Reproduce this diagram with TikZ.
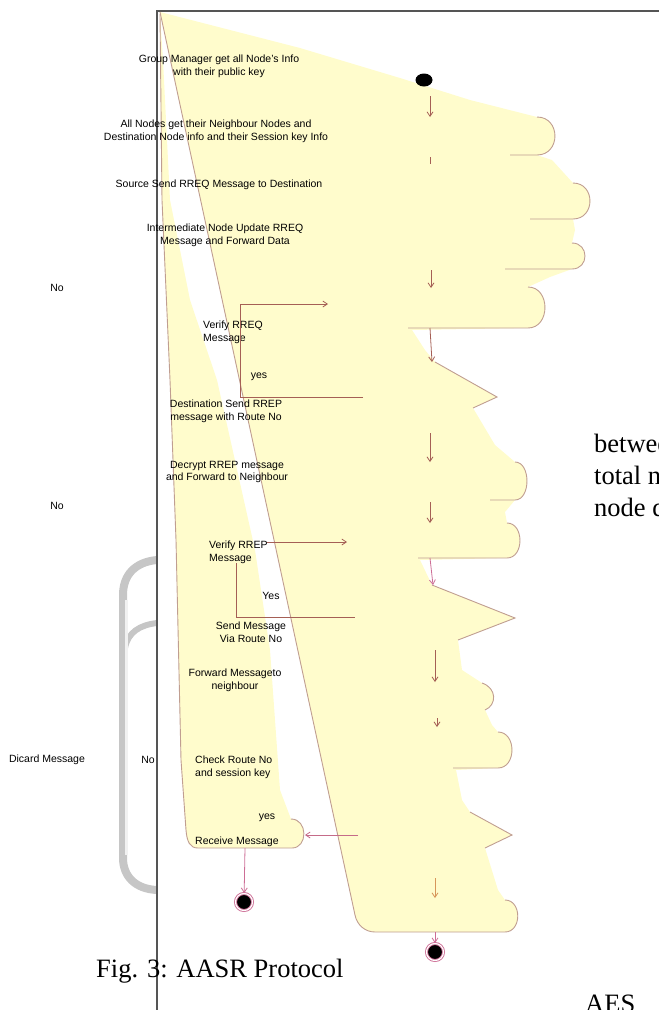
\documentclass[tikz,border=0pt]{standalone}
\usepackage{fontspec}
\setmainfont{Liberation Serif}
\setsansfont{Liberation Sans}
\usetikzlibrary{arrows.meta,shapes.geometric}
\definecolor{lanefill}{RGB}{255,252,204}
\definecolor{laneline}{RGB}{192,158,145}
\definecolor{flowline}{RGB}{165,95,85}
\definecolor{endpink}{RGB}{205,110,150}
\definecolor{framegray}{RGB}{85,85,85}
\definecolor{pipegray}{RGB}{198,198,198}
\definecolor{flowamber}{RGB}{215,150,90}

\begin{document}
\begin{tikzpicture}[x=1pt, y=-1pt,
  font=\sffamily\fontsize{10.5}{12.8}\selectfont,
  >={Straight Barb[length=4.5pt,width=6pt]},
  lbl/.style={inner sep=0pt, align=center},
  lblw/.style={inner sep=0pt, align=left, anchor=west},
  captxt/.style={inner sep=0pt, anchor=base west, font=\rmfamily\fontsize{26.5}{32}\selectfont},
  flow/.style={->, draw=flowline, line width=0.8pt},
  lane/.style={draw=laneline, line width=0.9pt},
  finish/.style={circle, fill=black, draw=endpink, double=white, double distance=1.2pt,
    line width=0.9pt, minimum size=17pt, inner sep=0pt}
]
\useasboundingbox (0,0) rectangle (659,1010);
\clip (0,0) rectangle (659,1010);

% swimlane fills
\fill[lanefill] (160,12) -- (300,48) -- (400,78) -- (470,100) -- (537,117)
  .. controls (561,117) and (561,155) .. (537,155) -- (552,160) -- (573,183)
  .. controls (596,183) and (596,219) .. (573,219) -- (575,230) -- (572,243)
  .. controls (589,243) and (589,269) .. (572,269) -- (550,277) -- (528,287)
  .. controls (551,287) and (551,328) .. (528,328) -- (412,330) -- (425,350)
  -- (435,362) -- (497,397) -- (473,408) -- (495,445) -- (515,462)
  .. controls (531,462) and (531,500) .. (515,500) -- (505,512) -- (507,523)
  .. controls (524,523) and (524,558) .. (507,558) -- (420,560) -- (432,585)
  -- (515,618) -- (458,640) -- (462,670) -- (482,683)
  .. controls (497,688) and (497,705) .. (485,710) -- (492,725) -- (498,732)
  .. controls (517,732) and (517,768) .. (498,768) -- (456,770) -- (462,800)
  -- (470,812) -- (512,835) -- (485,848) -- (498,890) -- (505,900)
  .. controls (522,900) and (522,932) .. (505,932) -- (375,932)
  .. controls (365,932) and (357,925) .. (355,915) -- cycle;
\fill[lanefill] (160,14) -- (162,200) -- (170,380) -- (176,540) -- (181,760) -- (186,830)
  .. controls (187,842) and (190,848) .. (198,848) -- (292,848)
  .. controls (308,848) and (308,819) .. (291,819) -- (280,790) -- (270,650)
  -- (255,550) -- (217,380) -- (190,300) -- (170,200) -- (163,60) -- cycle;

% grey bracket
\draw[pipegray, line width=8pt] (157,560) .. controls (135,562) and (123,575) .. (123,595)
  -- (123,858) .. controls (123,876) and (135,889) .. (157,890);
\draw[pipegray, line width=6pt] (157,623) .. controls (140,625) and (128,632) .. (125,648);
\draw[white!75!pipegray, line width=3pt] (126,600) -- (126,855);

\draw[framegray, line width=2.5pt] (157,1010) -- (157,11) -- (659,11);

\draw[lane] (160,12) -- (355,915) .. controls (357,925) and (365,932) .. (375,932)
  -- (505,932) .. controls (522,932) and (522,900) .. (505,900);
\draw[lane] (160,14) -- (162,200) -- (170,380) -- (176,540) -- (181,760) -- (186,830)
  .. controls (187,842) and (190,848) .. (198,848) -- (292,848)
  .. controls (308,848) and (308,819) .. (291,819);
\foreach \xa/\xb/\yb/\yt/\r in {510/537/155/117/18, 530/573/219/183/17, 505/572/269/243/13,
  408/528/328/287/17, 490/515/500/462/12, 418/507/558/523/13, 453/498/768/732/14}
  {\draw[lane] (\xa,\yb) -- (\xb,\yb) .. controls ({\xb+1.33*\r},\yb) and ({\xb+1.33*\r},\yt) .. (\xb,\yt);}
\draw[lane] (482,683) .. controls (497,688) and (497,705) .. (485,710);
\draw[lane] (435,362) -- (497,397) -- (473,408);
\draw[lane] (432,585) -- (515,618) -- (458,640);
\draw[lane] (470,812) -- (512,835) -- (485,848);

% activity labels
\node[lbl] (gm) at (219,66) {Group Manager get all Node's Info\\with their public key};
\node[lbl] (nb) at (216,131) {All Nodes get their Neighbour Nodes and\\Destination Node info and their Session key Info};
\node[lbl] (src) at (219,185) {Source Send RREQ Message to Destination};
\node[lbl] (imd) at (225,235) {Intermediate Node Update RREQ\\Message and Forward Data};
\node[lblw] (vq) at (203,332) {Verify RREQ\\Message};
\node[lbl] (vqy) at (259,377) {yes};
\node[lbl] (dst) at (226,411) {Destination Send RREP\\message with Route No};
\node[lbl] (dec) at (227,472) {Decrypt RREP message\\and Forward to Neighbour};
\node[lblw] (vp) at (209,552) {Verify RREP\\Message};
\node[lbl] (vpy) at (271,596) {Yes};
\node[lbl] (snd) at (251,632) {Send Message\\Via Route No};
\node[lbl] (fwd) at (235,680) {Forward Messageto\\neighbour};
\node[lblw] (chk) at (195,767) {Check Route No\\and session key};
\node[lbl] (chky) at (267,818) {yes};
\node[lblw] (rcv) at (195,842) {Receive Message};
\node[lbl] (no1) at (57,288) {No};
\node[lbl] (no2) at (57,506) {No};
\node[lbl] (dis) at (47,760) {Dicard Message};
\node[lbl] (no3) at (148,760) {No};

\node[captxt] (fig) at (96,977) {Fig. 3: AASR Protocol};
\node[captxt] (tx1) at (594,452) {betwee};
\node[captxt] (tx2) at (594,484) {total n};
\node[captxt] (tx3) at (594,516) {node d};
\node[captxt] (tx4) at (585,1012) {AES};

\node[ellipse, fill=black, minimum width=17pt, minimum height=13pt, inner sep=0pt] (start) at (424,80) {};
\node[finish] (end1) at (244,902) {};
\node[finish] (end2) at (435,952) {};

% flow
\coordinate (s0) at (430,96);   \coordinate (s1) at (430,117);
\coordinate (c0) at (431,270);  \coordinate (c1) at (431,288);
\coordinate (d0) at (430,328);  \coordinate (d1) at (432,362);
\coordinate (f0) at (430,433);  \coordinate (f1) at (430,462);
\coordinate (g0) at (430,502);  \coordinate (g1) at (430,523);
\coordinate (j0) at (435,650);  \coordinate (j1) at (435,682);
\coordinate (k0) at (437,718);  \coordinate (k1) at (437,727);
\foreach \u/\v in {s0/s1,c0/c1,d0/d1,f0/f1,g0/g1,j0/j1,k0/k1}{\draw[flow] (\u)--(\v);}
\draw[flowline, line width=0.8pt] (430,157) -- (430,164);
\coordinate (h0) at (430,558);  \coordinate (h1) at (433,585);
\draw[flow, draw=endpink] (h0) -- (h1);
\coordinate (m0) at (435,878);  \coordinate (m1) at (435,898);
\draw[flow, draw=flowamber] (m0) -- (m1);
\coordinate (bt) at (435,932);
\draw[flow, draw=endpink] (bt) -- (end2);
\coordinate (rb) at (245,848);
\draw[flow, draw=endpink] (rb) -- (end1);

\coordinate (q0) at (363,397);  \coordinate (q1) at (240,397);
\coordinate (q2) at (240,304);  \coordinate (q3) at (328,304);
\draw[flow] (q0) -- (q1) -- (q2) -- (q3);
\coordinate (p0) at (267,542);  \coordinate (p1) at (347,542);
\draw[flow] (p0) -- (p1);
\coordinate (p2) at (236,563);  \coordinate (p3) at (236,617);  \coordinate (p4) at (355,617);
\draw[draw=flowline, line width=0.8pt] (p2) -- (p3) -- (p4);
\coordinate (r0) at (358,835);  \coordinate (r1) at (305,835);
\draw[flow, draw=endpink!80!flowline] (r0) -- (r1);
\end{tikzpicture}
\end{document}
